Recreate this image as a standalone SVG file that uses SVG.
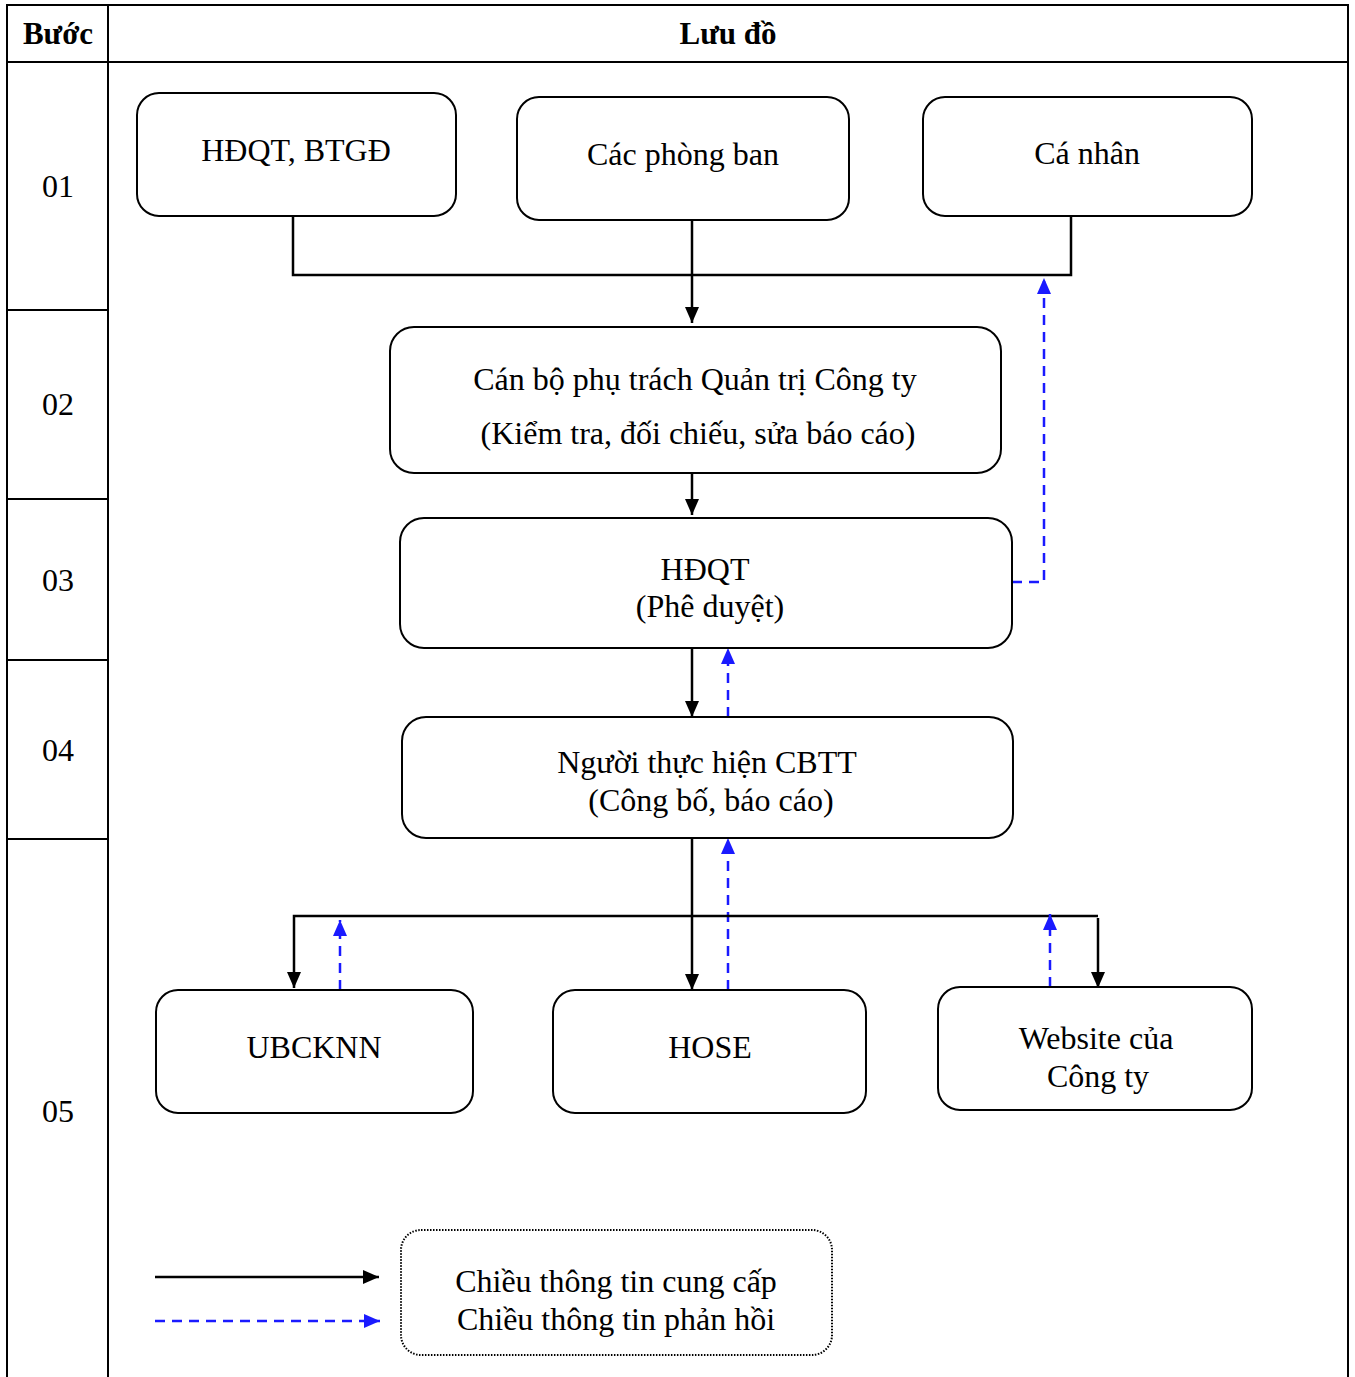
<svg xmlns="http://www.w3.org/2000/svg" width="1355" height="1377" viewBox="0 0 1355 1377">
<style>
text{font-family:"Liberation Serif","Times New Roman",serif;font-size:32px;fill:#000;text-anchor:middle}
.hd{font-weight:bold;font-size:31px}
.grid{stroke:#000;stroke-width:2;fill:none}
.box{fill:#fff;stroke:#000;stroke-width:2}
.sol{stroke:#000;stroke-width:2.5;fill:none}
.dash{stroke:#1a1aff;stroke-width:2.5;fill:none;stroke-dasharray:10,7}
</style>
<defs>
<marker id="ab" viewBox="0 0 16 14" refX="16" refY="7" markerWidth="16" markerHeight="14" markerUnits="userSpaceOnUse" orient="auto"><path d="M0,0 L16,7 L0,14 z" fill="#000"/></marker>
<marker id="au" viewBox="0 0 16 14" refX="16" refY="7" markerWidth="16" markerHeight="14" markerUnits="userSpaceOnUse" orient="auto"><path d="M0,0 L16,7 L0,14 z" fill="#1a1aff"/></marker>
</defs>
<rect width="1355" height="1377" fill="#fff"/>
<g id="table">
<path class="grid" d="M7,1377 V5 H1348 V1377 M7,62 H1348 M108,5 V1377 M7,310 H108 M7,499 H108 M7,660 H108 M7,839 H108"/>
<text class="hd" x="58" y="44">Bước</text>
<text class="hd" x="728" y="44">Lưu đồ</text>
<text x="58" y="197">01</text>
<text x="58" y="415">02</text>
<text x="58" y="591">03</text>
<text x="58" y="761">04</text>
<text x="58" y="1122">05</text>
</g>
<g id="connectors">
<path class="sol" d="M293,216 V275 H1071 V216"/>
<path class="sol" d="M692,220 V323" marker-end="url(#ab)"/>
<path class="dash" d="M1012,582 H1044 V278" marker-end="url(#au)"/>
<path class="sol" d="M692,473 V515" marker-end="url(#ab)"/>
<path class="sol" d="M692,648 V717" marker-end="url(#ab)"/>
<path class="dash" d="M728,717 V648" marker-end="url(#au)"/>
<path class="sol" d="M692,838 V990" marker-end="url(#ab)"/>
<path class="dash" d="M728,990 V838" marker-end="url(#au)"/>
<path class="sol" d="M1098,916 H294 V988" marker-end="url(#ab)"/>
<path class="sol" d="M1098,918 V988" marker-end="url(#ab)"/>
<path class="dash" d="M340,990 V920" marker-end="url(#au)"/>
<path class="dash" d="M1050,987 V914" marker-end="url(#au)"/>
<path class="sol" d="M155,1277 H379" marker-end="url(#ab)"/>
<path class="dash" d="M155,1321 H380" marker-end="url(#au)"/>
</g>
<g id="n1"><rect class="box" x="137" y="93" width="319" height="123" rx="22"/><text x="296" y="161">HĐQT, BTGĐ</text></g>
<g id="n2"><rect class="box" x="517" y="97" width="332" height="123" rx="22"/><text x="683" y="165">Các phòng ban</text></g>
<g id="n3"><rect class="box" x="923" y="97" width="329" height="119" rx="22"/><text x="1087" y="164">Cá nhân</text></g>
<g id="n4"><rect class="box" x="390" y="327" width="611" height="146" rx="24"/><text x="695" y="390">Cán bộ phụ trách Quản trị Công ty</text><text x="698" y="444">(Kiểm tra, đối chiếu, sửa báo cáo)</text></g>
<g id="n5"><rect class="box" x="400" y="518" width="612" height="130" rx="24"/><text x="705" y="580">HĐQT</text><text x="710" y="617">(Phê duyệt)</text></g>
<g id="n6"><rect class="box" x="402" y="717" width="611" height="121" rx="24"/><text x="707" y="773">Người thực hiện CBTT</text><text x="711" y="811">(Công bố, báo cáo)</text></g>
<g id="n7"><rect class="box" x="156" y="990" width="317" height="123" rx="22"/><text x="314" y="1058">UBCKNN</text></g>
<g id="n8"><rect class="box" x="553" y="990" width="313" height="123" rx="22"/><text x="710" y="1058">HOSE</text></g>
<g id="n9"><rect class="box" x="938" y="987" width="314" height="123" rx="22"/><text x="1096" y="1049">Website của</text><text x="1098" y="1087">Công ty</text></g>
<g id="legend"><rect x="401" y="1230" width="431" height="125" rx="20" fill="#fff" stroke="#000" stroke-width="2" stroke-dasharray="1.5,1.5"/><text x="616" y="1292">Chiều thông tin cung cấp</text><text x="616" y="1330">Chiều thông tin phản hồi</text></g>
</svg>
